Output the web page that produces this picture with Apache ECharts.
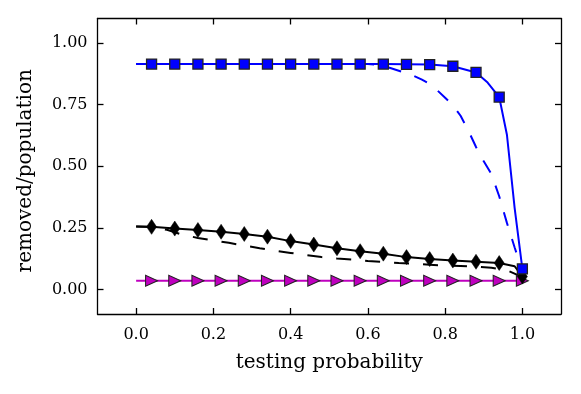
<!DOCTYPE html>
<html>
<head>
<meta charset="utf-8">
<script src="https://cdn.jsdelivr.net/npm/echarts@6/dist/echarts.min.js"></script>
<style>html,body{margin:0;padding:0;background:#fff;}#c{width:581px;height:394px;}</style>
</head>
<body>
<div id="c"></div>
<script>
// ---- data ----
var xTicks = [0, 0.2, 0.4, 0.6, 0.8, 1.0];
var yTicks = [0, 0.25, 0.5, 0.75, 1.0];
var markerX = [0.04,0.10,0.16,0.22,0.28,0.34,0.40,0.46,0.52,0.58,0.64,0.70,0.76,0.82,0.88,0.94,1.00];
var squareVals = [0.915,0.915,0.915,0.915,0.915,0.915,0.915,0.915,0.915,0.915,0.915,0.914,0.913,0.906,0.881,0.781,0.083];
var diamondVals = [0.254,0.247,0.241,0.234,0.225,0.214,0.196,0.182,0.167,0.155,0.145,0.131,0.123,0.117,0.112,0.107,0.052];
var triangleVals = [0.035,0.035,0.035,0.035,0.035,0.035,0.035,0.035,0.035,0.035,0.035,0.035,0.035,0.035,0.035,0.035,0.035];

var blueSolidX = [0, 0.64, 0.70, 0.76, 0.82, 0.88, 0.91, 0.94, 0.96, 0.98, 1.00];
var blueSolidY = [0.915, 0.915, 0.914, 0.913, 0.906, 0.881, 0.84, 0.781, 0.628, 0.33, 0.083];

var blueDashX = [0, 0.60, 0.62, 0.64, 0.66, 0.68, 0.70, 0.72, 0.74, 0.76, 0.78, 0.80, 0.82, 0.84, 0.86, 0.88, 0.90, 0.92, 0.94, 0.96, 0.98, 1.00];
var blueDashY = [0.915, 0.915, 0.913, 0.908, 0.898, 0.888, 0.877, 0.866, 0.852, 0.835, 0.808, 0.778, 0.748, 0.705, 0.645, 0.578, 0.52, 0.468, 0.378, 0.27, 0.17, 0.075];

var blackSolidX = [0,0.04,0.10,0.16,0.22,0.28,0.34,0.40,0.46,0.52,0.58,0.64,0.70,0.76,0.82,0.88,0.94,0.98,1.00];
var blackSolidY = [0.255,0.254,0.247,0.241,0.234,0.225,0.214,0.196,0.182,0.167,0.155,0.145,0.131,0.123,0.117,0.112,0.107,0.094,0.052];

var blackDashX = [0,0.04,0.08,0.12,0.16,0.20,0.24,0.28,0.32,0.36,0.40,0.44,0.48,0.52,0.56,0.60,0.64,0.68,0.72,0.76,0.80,0.84,0.88,0.92,0.96,1.00];
var blackDashY = [0.255,0.253,0.242,0.222,0.209,0.199,0.189,0.178,0.167,0.157,0.148,0.139,0.131,0.125,0.121,0.115,0.111,0.107,0.104,0.100,0.097,0.095,0.092,0.088,0.078,0.05];

var magentaX = [0, 1.00];
var magentaY = [0.035, 0.035];

function zip(xs, ys){ return xs.map(function(x,i){ return [x, ys[i]]; }); }

var serif = 'DejaVu Serif';
var axisCommon = {
  type: 'value', min: -0.1, max: 1.1,
  splitLine: {show: false},
  axisLine: {show: true, onZero: false, lineStyle: {color: '#000', width: 1.3}},
};

var chart = echarts.init(document.getElementById('c'), null, {renderer: 'canvas'});
chart.setOption({
  animation: false,
  backgroundColor: '#fff',
  grid: {left: 97.5, top: 18.5, right: 20, bottom: 80, containLabel: false},
  xAxis: [
    Object.assign({}, axisCommon, {
      position: 'bottom',
      name: 'testing probability', nameLocation: 'middle', nameGap: 39,
      nameTextStyle: {fontFamily: serif, fontSize: 20, color: '#000'},
      axisTick: {show: true, inside: true, length: 6, customValues: xTicks, lineStyle: {color: '#000', width: 1.3}},
      axisLabel: {show: true, customValues: xTicks, margin: 13, fontFamily: serif, fontSize: 16, color: '#000',
        formatter: function(v){ return v.toFixed(1); }}
    }),
    Object.assign({}, axisCommon, {
      position: 'top',
      axisTick: {show: true, inside: true, length: 6, customValues: xTicks, lineStyle: {color: '#000', width: 1.3}},
      axisLabel: {show: false}
    })
  ],
  yAxis: [
    Object.assign({}, axisCommon, {
      position: 'left',
      name: 'removed/population', nameLocation: 'middle', nameGap: 62,
      nameTextStyle: {fontFamily: serif, fontSize: 20, color: '#000', padding: [0, 9, 0, 0]},
      axisTick: {show: true, inside: true, length: 6, customValues: yTicks, lineStyle: {color: '#000', width: 1.3}},
      axisLabel: {show: true, customValues: yTicks, margin: 10, fontFamily: serif, fontSize: 16, color: '#000',
        formatter: function(v){ return v.toFixed(2); }}
    }),
    Object.assign({}, axisCommon, {
      position: 'right',
      axisTick: {show: true, inside: true, length: 6, customValues: yTicks, lineStyle: {color: '#000', width: 1.3}},
      axisLabel: {show: false}
    })
  ],
  series: [
    {type: 'line', data: zip(blueDashX, blueDashY), symbol: 'none', z: 2,
     lineStyle: {color: '#0000ff', width: 2, type: [14, 14]}},
    {type: 'line', data: zip(blackDashX, blackDashY), symbol: 'none', z: 2,
     lineStyle: {color: '#000', width: 2, type: [15, 14]}},
    {type: 'line', data: zip(magentaX, magentaY), symbol: 'none', z: 3,
     lineStyle: {color: '#bf00bf', width: 2}},
    {type: 'line', data: zip(blackSolidX, blackSolidY), symbol: 'none', z: 3,
     lineStyle: {color: '#000', width: 2}},
    {type: 'line', data: zip(blueSolidX, blueSolidY), symbol: 'none', z: 3,
     lineStyle: {color: '#0000ff', width: 2}},
    {type: 'scatter', data: zip(markerX, triangleVals), symbol: 'triangle', symbolSize: [11, 12], symbolRotate: -90, z: 4,
     itemStyle: {color: '#bf00bf', borderColor: '#222', borderWidth: 1, opacity: 1}},
    {type: 'scatter', data: zip(markerX, diamondVals), symbol: 'diamond', symbolSize: [10, 15], z: 5,
     itemStyle: {color: '#000', borderColor: '#000', borderWidth: 0.5, opacity: 1}},
    {type: 'scatter', data: zip(markerX, squareVals), symbol: 'rect', symbolSize: 10, z: 6,
     itemStyle: {color: '#0000ff', borderColor: '#222', borderWidth: 1.3, opacity: 1}}
  ]
});
</script>
</body>
</html>
